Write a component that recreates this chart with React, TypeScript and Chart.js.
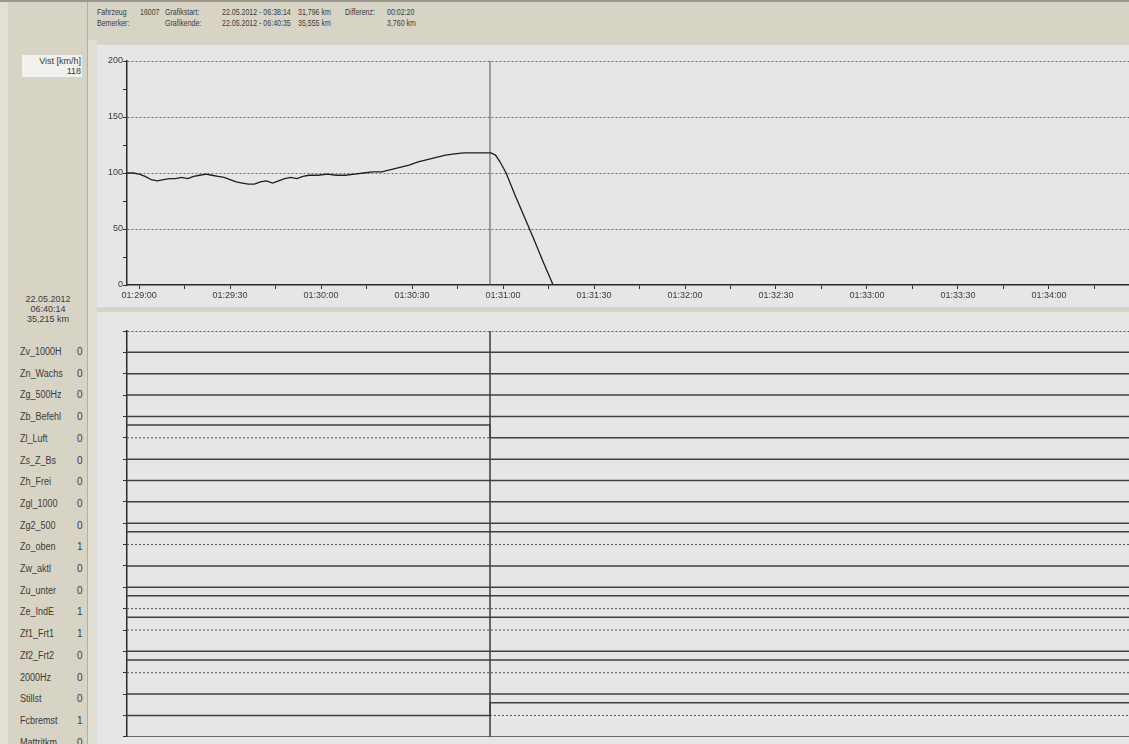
import React, { useEffect, useRef } from "react";
import { Chart, registerables } from "chart.js";

Chart.register(...registerables);

// ---- data ----
// time in seconds relative to 01:29:00
const BASE_SECONDS = 1 * 3600 + 29 * 60;
const X_MIN = -4;
const X_MAX = 326.4;
const CURSOR_T = 115.7;

const xTickSeconds = [0, 15, 30, 45, 60, 75, 90, 105, 120, 135, 150, 165, 180, 195, 210, 225, 240, 255, 270, 285, 300, 315];
const xLabelSeconds = [0, 30, 60, 90, 120, 150, 180, 210, 240, 270, 300];

const speedTimes = [-4, -2, 0, 2, 4, 6, 8, 10, 12, 14, 16, 18, 20, 22, 24, 26, 28, 30, 32, 34, 36, 38, 40, 42, 44, 46, 48, 50, 52, 54, 56, 59, 62, 65, 68, 71, 74, 77, 80, 83, 86, 89, 92, 95, 98, 101, 104, 107, 110, 113, 116, 117.5, 119, 121, 124, 127, 130, 133, 136.5];
const speedValues = [100, 100, 99, 97, 94, 93, 94, 95, 95, 96, 95, 97, 98, 99, 98, 97, 96, 94, 92, 91, 90, 90, 92, 93, 91, 93, 95, 96, 95, 97, 98, 98, 99, 98, 98, 99, 100, 101, 101, 103, 105, 107, 110, 112, 114, 116, 117, 118, 118, 118, 118, 116, 110, 100, 80, 61, 42, 22, 0];

const speedTickValues = [0, 25, 50, 75, 100, 125, 150, 175, 200];

const laneNames = ["Zv_1000H", "Zn_Wachs", "Zg_500Hz", "Zb_Befehl", "Zl_Luft", "Zs_Z_Bs", "Zh_Frei", "Zgl_1000", "Zg2_500", "Zo_oben", "Zw_aktl", "Zu_unter", "Ze_IndE", "Zf1_Frt1", "Zf2_Frt2", "2000Hz", "Stillst", "Fcbremst", "Mattritkm"];
const laneCursorText = ["0", "0", "0", "0", "0", "0", "0", "0", "0", "1", "0", "0", "1", "1", "0", "0", "0", "1", "0"];
const laneBefore = [0, 0, 0, 0, 1, 0, 0, 0, 0, 1, 0, 0, 1, 1, 0, 1, 0, 0, 0];
const laneAfter = [0, 0, 0, 0, 0, 0, 0, 0, 0, 1, 0, 0, 1, 1, 0, 1, 0, 1, 0];

const headerRow1 = ["Fahrzeug", "16007", "Grafikstart:", "22.05.2012 - 06:38:14", "31,796 km", "Differenz:", "00:02:20"];
const headerRow2 = ["Bemerker:", "", "Grafikende:", "22.05.2012 - 06:40:35", "35,555 km", "", "3,760 km"];
const cursorInfo = ["22.05.2012", "06:40:14", "35,215 km"];
const speedLabel = "Vist [km/h]";
const speedAtCursor = "118";

// ---- styles ----
const FONT = "'Liberation Sans', Arial, sans-serif";
const TEXT = "#3a3a3a";
const RAISE = 0.6;

function fmt(sec: number) {
  const t = BASE_SECONDS + sec;
  const h = Math.floor(t / 3600);
  const m = Math.floor((t % 3600) / 60);
  const s = Math.round(t % 60);
  const p = (n: number) => String(n).padStart(2, "0");
  return `${p(h)}:${p(m)}:${p(s)}`;
}

function SpeedChart() {
  const ref = useRef<HTMLCanvasElement>(null);
  useEffect(() => {
    const chart = new Chart(ref.current!, {
      type: "line",
      data: {
        datasets: [
          {
            data: speedTimes.map((t, i) => ({ x: t, y: speedValues[i] })),
            borderColor: "#1e1e1e",
            borderWidth: 1.3,
            pointRadius: 0,
            tension: 0,
          },
          {
            data: [
              { x: CURSOR_T, y: 0 },
              { x: CURSOR_T, y: 200 },
            ],
            borderColor: "#555",
            borderWidth: 1,
            pointRadius: 0,
          },
        ],
      },
      options: {
        animation: false,
        responsive: false,
        plugins: { legend: { display: false }, tooltip: { enabled: false } },
        layout: { padding: { top: 16, right: 0, left: 0, bottom: 0 } },
        scales: {
          x: {
            type: "linear",
            min: X_MIN,
            max: X_MAX,
            afterBuildTicks: (s: any) => {
              s.ticks = xTickSeconds.map((v) => ({ value: v }));
            },
            afterFit: (s: any) => {
              s.height = 22;
            },
            ticks: {
              autoSkip: false,
              maxRotation: 0,
              color: TEXT,
              font: { size: 9, family: FONT },
              padding: 1,
              callback: (v: any) => (xLabelSeconds.includes(Number(v)) ? fmt(Number(v)) : ""),
            },
            grid: { drawOnChartArea: false, tickLength: 4, color: "#333", tickColor: "#333" },
            border: { color: "#2a2a2a", width: 1.5 },
          },
          y: {
            min: 0,
            max: 200,
            afterBuildTicks: (s: any) => {
              s.ticks = speedTickValues.map((v) => ({ value: v }));
            },
            afterFit: (s: any) => {
              s.width = 30;
            },
            ticks: {
              color: TEXT,
              font: { size: 9, family: FONT },
              padding: 0,
              callback: (v: any) => (Number(v) % 50 === 0 ? String(v) : ""),
            },
            grid: {
              color: (ctx: any) => (ctx.tick && ctx.tick.value % 50 === 0 && ctx.tick.value > 0 ? "#6a6a6a" : "transparent"),
              tickColor: "#333",
              tickLength: 4,
              lineWidth: 1,
            },
            border: { color: "#2a2a2a", width: 1.5, dash: [2, 2] },
          },
        },
      },
    } as any);
    return () => chart.destroy();
  }, []);
  return <canvas ref={ref} width={1032} height={262} style={{ position: "absolute", left: 97, top: 45, width: 1032, height: 262, background: "#e6e6e6" }} />;
}

function SignalChart() {
  const ref = useRef<HTMLCanvasElement>(null);
  useEffect(() => {
    const datasets: any[] = [];
    laneNames.forEach((_, i) => {
      const base = i + 1;
      const b = laneBefore[i];
      const a = laneAfter[i];
      datasets.push({
        data: [
          { x: X_MIN, y: base - b * RAISE },
          { x: CURSOR_T, y: base - a * RAISE },
          { x: X_MAX, y: base - a * RAISE },
        ],
        stepped: "before",
        borderColor: "#404040",
        borderWidth: 1.5,
        pointRadius: 0,
      });
      datasets.push({
        data: [
          { x: X_MIN, y: b ? base : null },
          { x: CURSOR_T, y: b ? base : null },
          { x: CURSOR_T, y: a ? base : null },
          { x: X_MAX, y: a ? base : null },
        ],
        spanGaps: false,
        borderColor: "#505050",
        borderWidth: 1,
        borderDash: [2, 2],
        pointRadius: 0,
      });
    });
    datasets.push({
      data: [
        { x: CURSOR_T, y: 0 },
        { x: CURSOR_T, y: laneNames.length },
      ],
      borderColor: "#555",
      borderWidth: 1,
      pointRadius: 0,
    });
    const chart = new Chart(ref.current!, {
      type: "line",
      data: { datasets },
      options: {
        animation: false,
        responsive: false,
        plugins: { legend: { display: false }, tooltip: { enabled: false } },
        layout: { padding: { top: 19, right: 0, left: 0, bottom: 1 } },
        scales: {
          x: { type: "linear", min: X_MIN, max: X_MAX, display: false },
          y: {
            min: 0,
            max: laneNames.length,
            reverse: true,
            afterBuildTicks: (s: any) => {
              s.ticks = Array.from({ length: laneNames.length + 1 }, (_, k) => ({ value: k }));
            },
            afterFit: (s: any) => {
              s.width = 30;
            },
            ticks: { callback: () => "", padding: 0 },
            grid: {
              color: (ctx: any) => (ctx.tick && ctx.tick.value === 0 ? "#555" : "transparent"),
              tickColor: "#333",
              tickLength: 4,
              lineWidth: 1,
            },
            border: { color: "#2a2a2a", width: 1.5, dash: [2, 2] },
          },
        },
      },
    } as any);
    return () => chart.destroy();
  }, []);
  return <canvas ref={ref} width={1032} height={432} style={{ position: "absolute", left: 97, top: 312, width: 1032, height: 432, background: "#e6e6e6" }} />;
}

const headerX = [97, 140, 165, 222, 298, 345, 387];

export default function App() {
  const txt: React.CSSProperties = { position: "absolute", fontFamily: FONT, fontSize: 9, color: TEXT, whiteSpace: "nowrap", lineHeight: "10px" };
  const narrow: React.CSSProperties = { transform: "scaleX(0.78)", transformOrigin: "left top" };
  return (
    <div style={{ position: "fixed", left: 0, top: 0, width: 1129, height: 744, background: "#d8d4c5", overflow: "hidden" }}>
      {/* top border */}
      <div style={{ position: "absolute", left: 0, top: 0, width: 1129, height: 2, background: "#9a978c" }} />
      {/* left panel edge */}
      <div style={{ position: "absolute", left: 0, top: 2, width: 8, height: 742, background: "#e2dfd4" }} />
      <div style={{ position: "absolute", left: 87, top: 2, width: 1, height: 742, background: "#b3afa1" }} />
      <div style={{ position: "absolute", left: 88, top: 40, width: 9, height: 704, background: "#e0ddd2" }} />
      {headerRow1.map((t, i) => (
        <div key={"h1" + i} style={{ ...txt, ...narrow, left: headerX[i], top: 7 }}>{t}</div>
      ))}
      {headerRow2.map((t, i) => (
        <div key={"h2" + i} style={{ ...txt, ...narrow, left: headerX[i], top: 18 }}>{t}</div>
      ))}
      {/* speed box */}
      <div style={{ position: "absolute", left: 22, top: 55, width: 60, height: 22, background: "#f1f1ee" }} />
      <div style={{ ...txt, left: 22, top: 56, width: 59, textAlign: "right" }}>{speedLabel}</div>
      <div style={{ ...txt, left: 22, top: 66, width: 59, textAlign: "right" }}>{speedAtCursor}</div>
      {/* cursor info */}
      {cursorInfo.map((t, i) => (
        <div key={"ci" + i} style={{ ...txt, left: 10, width: 76, textAlign: "center", top: 294 + i * 10 }}>{t}</div>
      ))}
      {laneNames.map((n, i) => (
        <React.Fragment key={n}>
          <div style={{ ...txt, fontSize: 10, left: 20, top: 347 + i * 21.7, transform: "scaleX(0.9)", transformOrigin: "left top" }}>{n}</div>
          <div style={{ ...txt, fontSize: 10, left: 77, top: 347 + i * 21.7 }}>{laneCursorText[i]}</div>
        </React.Fragment>
      ))}
      <SpeedChart />
      <SignalChart />
    </div>
  );
}
